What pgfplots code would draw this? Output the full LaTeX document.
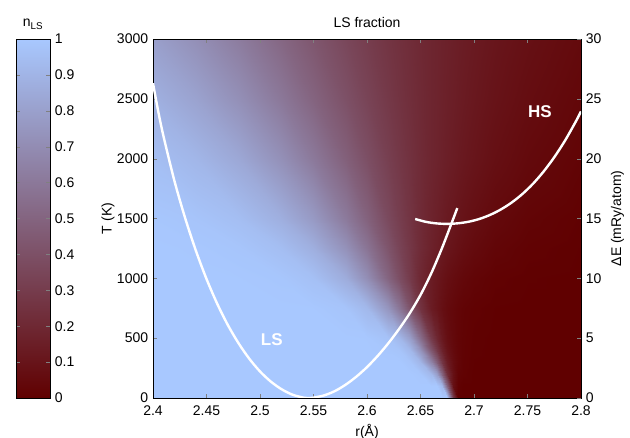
\documentclass[border=0pt]{standalone}
\usepackage{fontspec}
\setmainfont{Liberation Sans}
\usepackage{pgfplots}
\pgfplotsset{compat=1.18}
\pgfplotsset{
  nlsmap/.style={colormap={nls}{rgb255=(96,0,0) rgb255=(168,200,255)}},
}
\begin{document}
\fontsize{14bp}{16bp}\selectfont
\begin{tikzpicture}
\useasboundingbox (-153bp,-40bp) rectangle (477bp,398bp);
% colorbar
\begin{axis}[at={(-137bp,0)}, anchor=south west, width=34bp, height=359bp, scale only axis,
  nlsmap, point meta min=0, point meta max=1,
  xmin=0, xmax=1, ymin=0, ymax=1, xtick=\empty,
  ytick={0,0.1,0.2,0.3,0.4,0.5,0.6,0.7,0.8,0.9,1},
  yticklabel pos=right, tick align=inside, major tick length=4bp,
  /pgf/number format/assume math mode=true,
  yticklabel style={/pgf/number format/.cd, fixed, precision=1},
  title={n\textsubscript{LS}}, title style={yshift=-1bp},
  axis line style={line width=0.8bp}, axis on top]
\addplot[surf, shader=interp, mesh/cols=2, point meta=y] coordinates {(0,0) (1,0) (0,1) (1,1)};
\end{axis}
% heatmap
\begin{axis}[at={(0,0)}, anchor=south west, width=428bp, height=359bp, scale only axis,
  nlsmap, point meta min=0, point meta max=1,
  xmin=2.4, xmax=2.8, ymin=0, ymax=3000,
  xtick={2.4,2.45,2.5,2.55,2.6,2.65,2.7,2.75,2.8},
  ytick={0,500,1000,1500,2000,2500,3000},
  xtick pos=both, xticklabel pos=bottom, ytick pos=left,
  tick align=inside, major tick length=4bp,
  /pgf/number format/assume math mode=true, scaled ticks=false,
  xticklabel style={yshift=-3bp, /pgf/number format/.cd, fixed, precision=2},
  yticklabel style={/pgf/number format/1000 sep={}},
  title={LS fraction}, title style={yshift=1bp},
  xlabel={r(Å)}, xlabel style={yshift=1bp}, ylabel={T (K)},
  ylabel style={at={(axis description cs:-0.105,0.5)}, anchor=center},
  axis line style={line width=0.8bp}, axis on top]
\addplot[surf, shader=interp, mesh/cols=22, point meta=explicit] coordinates {
(2.40,0)[1] (2.44,0)[1] (2.48,0)[1] (2.52,0)[1] (2.55,0)[1] (2.58,0)[1] (2.60,0)[1] (2.62,0)[1] (2.63,0)[1] (2.64,0)[1] (2.65,0)[1] (2.66,0)[1] (2.665,0)[1] (2.67,0)[1] (2.675,0)[1] (2.68,0)[0.3] (2.685,0)[0] (2.69,0)[0] (2.70,0)[0] (2.72,0)[0] (2.75,0)[0] (2.80,0)[0]
(2.40,100)[1] (2.44,100)[1] (2.48,100)[1] (2.52,100)[1] (2.55,100)[1] (2.58,100)[1] (2.60,100)[1] (2.62,100)[1] (2.63,100)[1] (2.64,100)[1] (2.65,100)[1] (2.66,100)[1] (2.665,100)[1] (2.67,100)[0.92] (2.675,100)[0.5] (2.68,100)[0.08] (2.685,100)[0.01] (2.69,100)[0] (2.70,100)[0] (2.72,100)[0] (2.75,100)[0] (2.80,100)[0]
(2.40,200)[1] (2.44,200)[1] (2.48,200)[1] (2.52,200)[1] (2.55,200)[1] (2.58,200)[1] (2.60,200)[1] (2.62,200)[1] (2.63,200)[1] (2.64,200)[1] (2.65,200)[0.99] (2.66,200)[0.92] (2.665,200)[0.78] (2.67,200)[0.5] (2.675,200)[0.22] (2.68,200)[0.08] (2.685,200)[0.02] (2.69,200)[0.01] (2.70,200)[0] (2.72,200)[0] (2.75,200)[0] (2.80,200)[0]
(2.40,300)[1] (2.44,300)[1] (2.48,300)[1] (2.52,300)[1] (2.55,300)[1] (2.58,300)[1] (2.60,300)[1] (2.62,300)[1] (2.63,300)[1] (2.64,300)[0.98] (2.65,300)[0.91] (2.66,300)[0.66] (2.665,300)[0.46] (2.67,300)[0.27] (2.675,300)[0.14] (2.68,300)[0.065] (2.685,300)[0.03] (2.69,300)[0.013] (2.70,300)[0.002] (2.72,300)[0] (2.75,300)[0] (2.80,300)[0]
(2.40,400)[1] (2.44,400)[1] (2.48,400)[1] (2.52,400)[1] (2.55,400)[1] (2.58,400)[1] (2.60,400)[1] (2.62,400)[0.99] (2.63,400)[0.98] (2.64,400)[0.92] (2.65,400)[0.74] (2.66,400)[0.43] (2.665,400)[0.28] (2.67,400)[0.17] (2.675,400)[0.094] (2.68,400)[0.05] (2.685,400)[0.027] (2.69,400)[0.014] (2.70,400)[0.004] (2.72,400)[0] (2.75,400)[0] (2.80,400)[0]
(2.40,500)[1] (2.44,500)[1] (2.48,500)[1] (2.52,500)[1] (2.55,500)[1] (2.58,500)[1] (2.60,500)[0.997] (2.62,500)[0.97] (2.63,500)[0.92] (2.64,500)[0.79] (2.65,500)[0.555] (2.66,500)[0.29] (2.665,500)[0.19] (2.67,500)[0.12] (2.675,500)[0.072] (2.68,500)[0.043] (2.685,500)[0.025] (2.69,500)[0.015] (2.70,500)[0.005] (2.72,500)[0] (2.75,500)[0] (2.80,500)[0]
(2.40,750)[1] (2.44,750)[1] (2.48,750)[1] (2.52,750)[1] (2.55,750)[0.998] (2.58,750)[0.98] (2.60,750)[0.92] (2.62,750)[0.745] (2.63,750)[0.59] (2.64,750)[0.41] (2.65,750)[0.255] (2.66,750)[0.14] (2.665,750)[0.105] (2.67,750)[0.076] (2.675,750)[0.054] (2.68,750)[0.039] (2.685,750)[0.027] (2.69,750)[0.019] (2.70,750)[0.01] (2.72,750)[0.002] (2.75,750)[0] (2.80,750)[0]
(2.40,1000)[1] (2.44,1000)[1] (2.48,1000)[0.998] (2.52,1000)[0.99] (2.55,1000)[0.96] (2.58,1000)[0.86] (2.60,1000)[0.71] (2.62,1000)[0.5] (2.63,1000)[0.39] (2.64,1000)[0.29] (2.65,1000)[0.2] (2.66,1000)[0.14] (2.665,1000)[0.115] (2.67,1000)[0.094] (2.675,1000)[0.076] (2.68,1000)[0.061] (2.685,1000)[0.05] (2.69,1000)[0.04] (2.70,1000)[0.026] (2.72,1000)[0.01] (2.75,1000)[0.003] (2.80,1000)[0]
(2.40,1250)[1] (2.44,1250)[0.996] (2.48,1250)[0.985] (2.52,1250)[0.948] (2.55,1250)[0.874] (2.58,1250)[0.725] (2.60,1250)[0.58] (2.62,1250)[0.42] (2.63,1250)[0.34] (2.64,1250)[0.275] (2.65,1250)[0.215] (2.66,1250)[0.167] (2.665,1250)[0.146] (2.67,1250)[0.126] (2.675,1250)[0.109] (2.68,1250)[0.095] (2.685,1250)[0.082] (2.69,1250)[0.07] (2.70,1250)[0.052] (2.72,1250)[0.028] (2.75,1250)[0.011] (2.80,1250)[0.002]
(2.40,1500)[0.993] (2.44,1500)[0.981] (2.48,1500)[0.95] (2.52,1500)[0.875] (2.55,1500)[0.77] (2.58,1500)[0.61] (2.60,1500)[0.49] (2.62,1500)[0.366] (2.63,1500)[0.31] (2.64,1500)[0.26] (2.65,1500)[0.214] (2.66,1500)[0.175] (2.665,1500)[0.158] (2.67,1500)[0.142] (2.675,1500)[0.127] (2.68,1500)[0.114] (2.685,1500)[0.102] (2.69,1500)[0.091] (2.70,1500)[0.072] (2.72,1500)[0.045] (2.75,1500)[0.022] (2.80,1500)[0.006]
(2.40,2000)[0.953] (2.44,2000)[0.911] (2.48,2000)[0.838] (2.52,2000)[0.721] (2.55,2000)[0.606] (2.58,2000)[0.479] (2.60,2000)[0.394] (2.62,2000)[0.315] (2.63,2000)[0.279] (2.64,2000)[0.246] (2.65,2000)[0.216] (2.66,2000)[0.187] (2.665,2000)[0.175] (2.67,2000)[0.163] (2.675,2000)[0.152] (2.68,2000)[0.141] (2.685,2000)[0.13] (2.69,2000)[0.121] (2.70,2000)[0.104] (2.72,2000)[0.076] (2.75,2000)[0.047] (2.80,2000)[0.02]
(2.40,2500)[0.881] (2.44,2500)[0.813] (2.48,2500)[0.717] (2.52,2500)[0.599] (2.55,2500)[0.5] (2.58,2500)[0.401] (2.60,2500)[0.339] (2.62,2500)[0.283] (2.63,2500)[0.256] (2.64,2500)[0.231] (2.65,2500)[0.209] (2.66,2500)[0.187] (2.665,2500)[0.178] (2.67,2500)[0.168] (2.675,2500)[0.159] (2.68,2500)[0.151] (2.685,2500)[0.142] (2.69,2500)[0.134] (2.70,2500)[0.119] (2.72,2500)[0.094] (2.75,2500)[0.065] (2.80,2500)[0.034]
(2.40,3000)[0.796] (2.44,3000)[0.716] (2.48,3000)[0.62] (2.52,3000)[0.514] (2.55,3000)[0.433] (2.58,3000)[0.354] (2.60,3000)[0.307] (2.62,3000)[0.263] (2.63,3000)[0.242] (2.64,3000)[0.223] (2.65,3000)[0.204] (2.66,3000)[0.187] (2.665,3000)[0.179] (2.67,3000)[0.171] (2.675,3000)[0.164] (2.68,3000)[0.157] (2.685,3000)[0.149] (2.69,3000)[0.143] (2.70,3000)[0.13] (2.72,3000)[0.107] (2.75,3000)[0.08] (2.80,3000)[0.048]
};
\end{axis}
% right axis with energy curves
\begin{axis}[at={(0,0)}, anchor=south west, width=428bp, height=359bp, scale only axis,
  xmin=2.4, xmax=2.8, ymin=0, ymax=30,
  axis x line=none, axis y line*=right,
  ytick={0,5,10,15,20,25,30}, tick align=inside, major tick length=4bp,
  /pgf/number format/assume math mode=true,
  ylabel={ΔE (mRy/atom)},
  axis line style={line width=0.8bp}]
\addplot[white, line width=2.4bp, smooth] coordinates {
(2.400,26.3) (2.405,23.9) (2.410,21.8) (2.420,18.15) (2.430,15.05) (2.440,12.33) (2.450,9.95) (2.460,7.88) (2.470,6.09) (2.480,4.57) (2.490,3.28) (2.500,2.22) (2.510,1.38) (2.520,0.74) (2.530,0.29) (2.540,0.04) (2.545,0.0) (2.550,0.03) (2.560,0.22) (2.570,0.58) (2.580,1.11) (2.590,1.78) (2.600,2.58) (2.610,3.52) (2.620,4.58) (2.630,5.77) (2.640,7.09) (2.650,8.61) (2.660,10.41) (2.670,12.51) (2.680,14.83) (2.6844,15.87)};
\addplot[white, line width=2.4bp, smooth] coordinates {
(2.645,14.96) (2.655,14.72) (2.665,14.59) (2.675,14.55) (2.685,14.6) (2.695,14.73) (2.705,14.96) (2.715,15.3) (2.725,15.75) (2.735,16.32) (2.745,17.03) (2.755,17.89) (2.765,18.92) (2.775,20.12) (2.785,21.5) (2.795,23.08) (2.800,23.95)};
\node[white, font=\fontsize{17bp}{19bp}\selectfont\bfseries] at (axis cs:2.511,4.87) {LS};
\node[white, font=\fontsize{17bp}{19bp}\selectfont\bfseries] at (axis cs:2.7617,23.9) {HS};
\end{axis}
\end{tikzpicture}
\end{document}
